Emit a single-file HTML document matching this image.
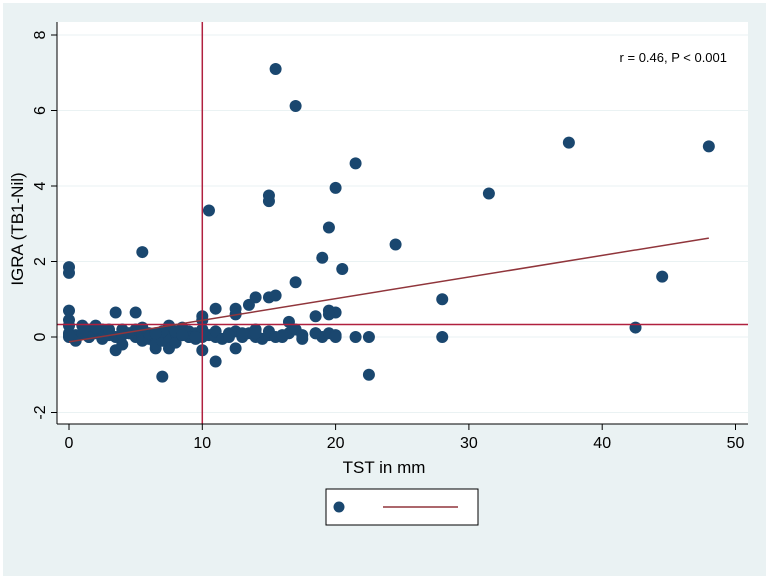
<!DOCTYPE html>
<html><head><meta charset="utf-8"><style>
body{margin:0;background:#fff;}
svg{display:block;font-family:"Liberation Sans",sans-serif;}
</style></head><body>
<svg id="chart" width="771" height="579">
<rect x="3" y="3" width="763" height="573" fill="#eaf2f3"/>
<rect x="57" y="22" width="691" height="402" fill="#ffffff"/>
<g id="grid"></g>
<g id="marks"></g>
<g id="axes"></g>
<text x="727" y="62" font-size="13" text-anchor="end" fill="#000">r = 0.46, P &lt; 0.001</text>
<text x="384" y="473" font-size="17" text-anchor="middle" fill="#000">TST in mm</text>
<text transform="translate(23,229) rotate(-90)" font-size="17" text-anchor="middle" fill="#000">IGRA (TB1-Nil)</text>
<g>
<rect x="326" y="489" width="152" height="36" fill="#fff" stroke="#000" stroke-width="1"/>
<circle cx="339" cy="507" r="5.5" fill="#1a476f"/>
<line x1="383" y1="507" x2="458" y2="507" stroke="#90353b" stroke-width="1.5"/>
</g>
</svg>
<script>
const xTicks=[0,10,20,30,40,50];
const yTicks=[-2,0,2,4,6,8];
const xVals=[15.5,17,21.5,37.5,48,31.5,20,10.5,15,15,19.5,24.5,5.5,19,20.5,0,0,17,44.5,28,14,15,15.5,13.5,11,12.5,12.5,10,10,3.5,5,0,16.5,19.5,20,19.5,18.5,42.5,28,22.5,21.5,22.5,7,11,10,12.5,3.5,6.5,7.5,
0,0,0,0,0.5,0.5,1,1,1.5,1.5,2,2,2.5,2.5,3,3,3.5,4,4,4.5,5,5,5.5,5.5,6,6,6.5,6.5,7,7,7.5,7.5,8,8,8.5,8.5,9,9,9.5,9.5,10,10,10.5,11,11,11.5,12,12,12.5,13,13,13.5,14,14,14.5,15,15,16,16.5,17,17.5,18.5,19,19.5,20,1.5,2.5,4,6,8,9,12,14,15.5,17.5,0,1,3,5.5,7,9.5,13,16,18.5,20,2,4.5,6.5,8.5];
const yVals=[7.1,6.12,4.6,5.15,5.05,3.8,3.95,3.35,3.75,3.6,2.9,2.45,2.25,2.1,1.8,1.85,1.7,1.45,1.6,1.0,1.05,1.05,1.1,0.85,0.75,0.75,0.6,0.55,0.45,0.65,0.65,0.7,0.4,0.7,0.65,0.6,0.55,0.25,0.0,0.0,0.0,-1.0,-1.05,-0.65,-0.35,-0.3,-0.35,-0.3,-0.3,
0.0,0.1,0.3,0.45,0.05,-0.1,0.3,0.1,0.0,0.2,0.3,0.1,0.0,0.2,0.05,0.15,0.0,0.2,-0.2,0.1,0.0,0.2,0.05,-0.1,0.1,-0.05,0.0,-0.2,0.1,-0.1,0.3,0.0,0.1,-0.15,0.05,0.25,0.0,0.15,0.1,-0.05,0.0,0.2,0.05,0.0,0.15,-0.05,0.1,0.0,0.15,0.05,0.0,0.1,0.0,0.2,-0.05,0.05,0.15,0.0,0.1,0.2,0.05,0.1,0.0,0.1,0.05,0.0,-0.05,0.05,0.1,0.15,0.0,0.05,0.1,0.0,-0.05,0.05,0.1,0.2,0.25,0.15,0.0,0.1,0.05,0.1,0.0,0.25,0.1,0.1,0.05,0.0];
const fitX=[0,48];
const fitY=[-0.13,2.62];
const refX=[10];
const refY=[0.33];
const X=v=>69+(v)*13.33;
const Y=v=>337-(v)*37.75;
const NS='http://www.w3.org/2000/svg';
function mk(tag,attrs,parent){const e=document.createElementNS(NS,tag);for(const k in attrs)e.setAttribute(k,attrs[k]);parent.appendChild(e);return e;}
const grid=document.getElementById('grid'),marks=document.getElementById('marks'),axes=document.getElementById('axes');
yTicks.forEach(t=>{const l=mk('line',{x1:57,x2:748,y1:Y(t),y2:Y(t),stroke:'#eaf2f3','stroke-width':1},grid);

});
mk('line',{x1:57,x2:57,y1:22,y2:424,stroke:'#000','stroke-width':1},axes);
mk('line',{x1:57,x2:748,y1:424,y2:424,stroke:'#000','stroke-width':1},axes);
yTicks.forEach(t=>{const tk=mk('line',{x1:51,x2:57,y1:Y(t),y2:Y(t),stroke:'#000'},axes);


const tx=mk('text',{transform:`translate(${45},${Y(t)}) rotate(-90)`,'font-size':16,'text-anchor':'middle'},axes);tx.textContent=t;

});
xTicks.forEach(t=>{const tk=mk('line',{x1:X(t),x2:X(t),y1:424,y2:430,stroke:'#000'},axes);


const tx=mk('text',{x:X(t),y:448,'font-size':16,'text-anchor':'middle'},axes);tx.textContent=t;

});
xVals.forEach((x,i)=>{const c=mk('circle',{cx:X(x),cy:Y(yVals[i]),r:6,fill:'#1a476f'},marks);

});
const vl=mk('line',{x1:X(refX[0]),x2:X(refX[0]),y1:22,y2:424,stroke:'#b0203f','stroke-width':1.5},marks);


const hl=mk('line',{x1:57,x2:748,y1:Y(refY[0]),y2:Y(refY[0]),stroke:'#b0203f','stroke-width':1.5},marks);


const fl=mk('line',{x1:X(fitX[0]),y1:Y(fitY[0]),x2:X(fitX[1]),y2:Y(fitY[1]),stroke:'#90353b','stroke-width':1.5},marks);


</script>
</body></html>
